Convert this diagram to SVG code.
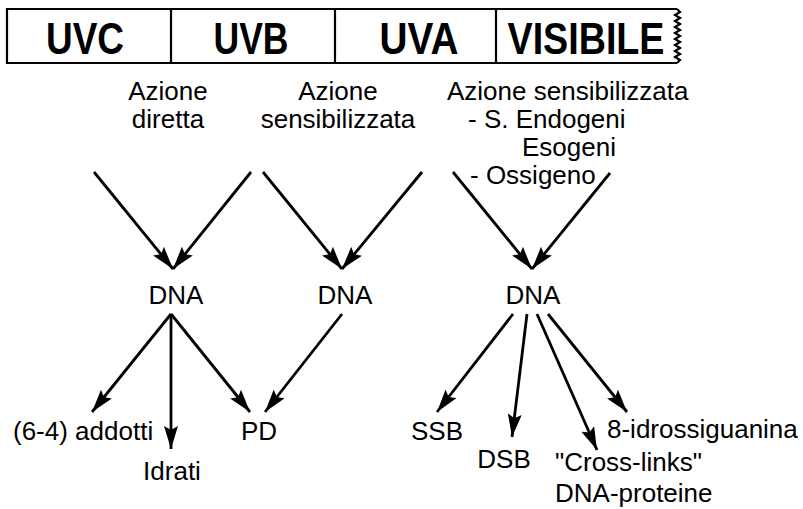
<svg xmlns="http://www.w3.org/2000/svg" width="803" height="509" viewBox="0 0 803 509">
  <style>
    .t { font-family: "Liberation Sans", Arial, sans-serif; font-size: 26px; fill: #000; }
    .b { font-family: "Liberation Sans", Arial, sans-serif; font-size: 44px; font-weight: bold; fill: #000; }
    .m { text-anchor: middle; }
    .ln { stroke: #000; stroke-width: 2.8; fill: none; marker-end: url(#ah); }
    .bx { stroke: #000; stroke-width: 2.2; fill: none; }
  </style>
  <defs>
    <marker id="ah" markerUnits="userSpaceOnUse" markerWidth="24" markerHeight="14" viewBox="0 0 24 14" refX="23" refY="7" orient="auto">
      <path d="M0,0 L23,7 L0,14 L4,7 z" fill="#000"/>
    </marker>
  </defs>
  <rect width="803" height="509" fill="#fff"/>

  <g id="spectrum">
    <path class="bx" d="M677,9 L7,9 L7,63 L677,63"/>
    <path class="bx" d="M677,9 L680,12 L675,15 L680,18 L675,21 L680,24 L675,27 L680,30 L675,33 L680,36 L675,39 L680,42 L675,45 L680,48 L675,51 L680,54 L675,57 L680,60 L677,63"/>
    <line class="bx" x1="171" y1="9" x2="171" y2="63"/>
    <line class="bx" x1="335" y1="9" x2="335" y2="63"/>
    <line class="bx" x1="496" y1="9" x2="496" y2="63"/>
    <text class="b m" x="85" y="54" textLength="78" lengthAdjust="spacingAndGlyphs">UVC</text>
    <text class="b m" x="251" y="54" textLength="75" lengthAdjust="spacingAndGlyphs">UVB</text>
    <text class="b m" x="419" y="54" textLength="79" lengthAdjust="spacingAndGlyphs">UVA</text>
    <text class="b m" x="586" y="54" textLength="157" lengthAdjust="spacingAndGlyphs">VISIBILE</text>
  </g>

  <g id="azione-diretta">
    <text class="t m" x="168" y="100">Azione</text>
    <text class="t m" x="168" y="128">diretta</text>
  </g>
  <g id="azione-sensibilizzata">
    <text class="t m" x="338" y="100">Azione</text>
    <text class="t m" x="338" y="128">sensibilizzata</text>
  </g>
  <g id="azione-sensibilizzata-visibile">
    <text class="t" x="447" y="100">Azione sensibilizzata</text>
    <text class="t" x="468" y="128">- S. Endogeni</text>
    <text class="t" x="522" y="156">Esogeni</text>
    <text class="t" x="470" y="184">- Ossigeno</text>
  </g>

  <g id="dna1"><text class="t m" x="176" y="304">DNA</text></g>
  <g id="dna2"><text class="t m" x="345" y="304">DNA</text></g>
  <g id="dna3"><text class="t m" x="533" y="304">DNA</text></g>

  <g id="addotti"><text class="t" x="13" y="440">(6-4) addotti</text></g>
  <g id="idrati"><text class="t m" x="172" y="480">Idrati</text></g>
  <g id="pd"><text class="t m" x="259" y="440">PD</text></g>
  <g id="ssb"><text class="t m" x="437" y="440">SSB</text></g>
  <g id="dsb"><text class="t m" x="504" y="468">DSB</text></g>
  <g id="crosslinks">
    <text class="t" x="555" y="471">"Cross-links"</text>
    <text class="t" x="555" y="502">DNA-proteine</text>
  </g>
  <g id="idrossiguanina"><text class="t" x="607" y="438">8-idrossiguanina</text></g>

  <g id="connectors">
    <line class="ln" x1="94" y1="172" x2="173" y2="269"/>
    <line class="ln" x1="251" y1="172" x2="173" y2="269"/>
    <line class="ln" x1="263" y1="172" x2="342" y2="269"/>
    <line class="ln" x1="422" y1="172" x2="342" y2="269"/>
    <line class="ln" x1="453" y1="172" x2="532" y2="269"/>
    <line class="ln" x1="610" y1="173" x2="532" y2="269"/>
    <line class="ln" x1="171" y1="314" x2="92" y2="412"/>
    <line class="ln" x1="171" y1="314" x2="171" y2="449"/>
    <line class="ln" x1="171" y1="314" x2="250" y2="412"/>
    <line class="ln" x1="342" y1="314" x2="265" y2="412"/>
    <line class="ln" x1="513" y1="314" x2="437" y2="412"/>
    <line class="ln" x1="527" y1="314" x2="512" y2="437"/>
    <line class="ln" x1="537" y1="314" x2="597" y2="450"/>
    <line class="ln" x1="548" y1="314" x2="627" y2="412"/>
  </g>
</svg>
